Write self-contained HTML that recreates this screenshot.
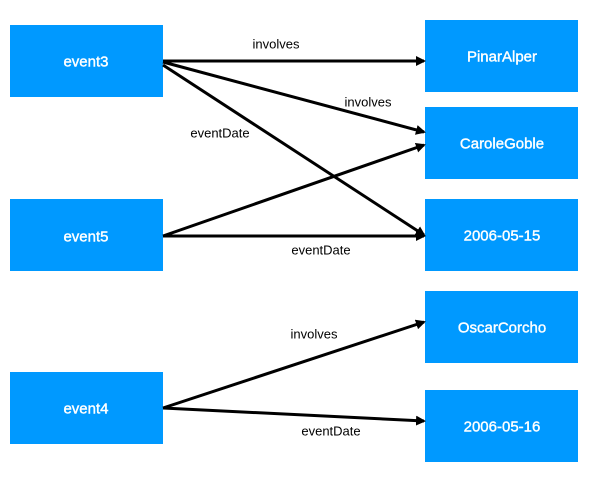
<!DOCTYPE html>
<html><head><meta charset="utf-8"><style>
body{margin:0;background:#fff;width:611px;height:483px;overflow:hidden}
svg{display:block}
.b{fill:#0099ff}
.t{font-family:"Liberation Sans",sans-serif;font-size:15px;fill:#fff;text-anchor:middle;dominant-baseline:central;stroke:#fff;stroke-width:0.4}
.l{font-family:"Liberation Sans",sans-serif;font-size:13px;fill:#000;text-anchor:middle;dominant-baseline:central}
line{stroke:#000;stroke-width:3}
</style></head><body>
<svg width="611" height="483" viewBox="0 0 611 483">
<defs><marker id="a" markerWidth="10" markerHeight="10" refX="8" refY="5" orient="auto" markerUnits="userSpaceOnUse"><path d="M0,0 L10,5 L0,10 Z" fill="#000"/></marker></defs>
<rect class="b" x="10" y="25" width="153" height="72"/><text class="t" x="86" y="62">event3</text>
<rect class="b" x="10" y="199" width="153" height="72"/><text class="t" x="86" y="237">event5</text>
<rect class="b" x="10" y="372" width="153" height="72"/><text class="t" x="86" y="409">event4</text>
<rect class="b" x="425" y="20" width="153" height="72"/><text class="t" x="502" y="57">PinarAlper</text>
<rect class="b" x="425" y="107" width="153" height="72"/><text class="t" x="502" y="144">CaroleGoble</text>
<rect class="b" x="425" y="199" width="153" height="72"/><text class="t" x="502" y="236">2006-05-15</text>
<rect class="b" x="425" y="291" width="153" height="72"/><text class="t" x="502" y="328">OscarCorcho</text>
<rect class="b" x="425" y="390" width="153" height="72"/><text class="t" x="502" y="427">2006-05-16</text>
<line x1="163" y1="61" x2="424" y2="61" marker-end="url(#a)"/>
<line x1="163" y1="62" x2="424" y2="132" marker-end="url(#a)"/>
<line x1="163" y1="65" x2="424" y2="235" marker-end="url(#a)"/>
<line x1="163" y1="236" x2="424" y2="145" marker-end="url(#a)"/>
<line x1="163" y1="236" x2="424" y2="236" marker-end="url(#a)"/>
<line x1="163" y1="408" x2="424" y2="322" marker-end="url(#a)"/>
<line x1="163" y1="408" x2="424" y2="421" marker-end="url(#a)"/>
<text class="l" x="276" y="44">involves</text>
<text class="l" x="368" y="102">involves</text>
<text class="l" x="220" y="133">eventDate</text>
<text class="l" x="321" y="250">eventDate</text>
<text class="l" x="314" y="334">involves</text>
<text class="l" x="331" y="431">eventDate</text>
</svg>
</body></html>
